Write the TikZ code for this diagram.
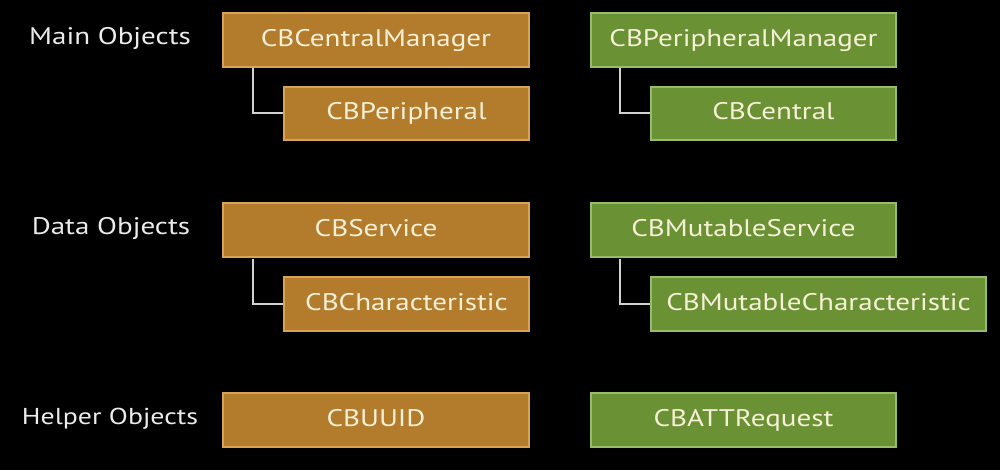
\documentclass[tikz,border=0pt]{standalone}
\usepackage{fontspec}
\setmainfont[FakeStretch=1.21]{PT Sans}
\definecolor{orfill}{RGB}{178,124,44}
\definecolor{ordraw}{RGB}{214,164,84}
\definecolor{grfill}{RGB}{106,145,52}
\definecolor{grdraw}{RGB}{152,188,104}
\definecolor{boxtext}{RGB}{246,240,214}
\definecolor{linkc}{RGB}{210,210,210}
\tikzset{
  basebox/.style={line width=1.5pt, inner sep=0pt, text=boxtext, text height=17pt, text depth=4pt, font=\fontsize{24}{28}\selectfont},
  obox/.style={basebox, draw=ordraw, fill=orfill},
  gbox/.style={basebox, draw=grdraw, fill=grfill},
  rowlabel/.style={text=white!92!black, font=\fontsize{24}{28}\selectfont, inner sep=0pt, text height=17pt, text depth=4pt},
  link/.style={draw=linkc, line width=2pt}
}
\begin{document}
\begin{tikzpicture}[x=1pt,y=-1pt]
\fill[black] (0,0) rectangle (1000,470);
\useasboundingbox (0,0) rectangle (1000,470);
% labels
\node[rowlabel] (lmain) at (110,38) {Main Objects};
\node[rowlabel] (ldata) at (111,228) {Data Objects};
\node[rowlabel, font=\fontsize{23}{28}\selectfont] (lhelp) at (110,418) {Helper Objects};
% main
\node[obox, minimum width=306, minimum height=54] (ccm) at (376,40) {CBCentralManager};
\node[obox, minimum width=245, minimum height=53] (cp) at (406.5,113.5) {CBPeripheral};
\node[gbox, minimum width=305, minimum height=54] (cpm) at (743.5,40) {CBPeripheralManager};
\node[gbox, minimum width=245, minimum height=53] (cc) at (773.5,113.5) {CBCentral};
% data
\node[obox, minimum width=306, minimum height=54] (cs) at (376,230) {CBService};
\node[obox, minimum width=245, minimum height=54] (cch) at (406.5,304) {CBCharacteristic};
\node[gbox, minimum width=305, minimum height=54] (cms) at (743.5,230) {CBMutableService};
\node[gbox, minimum width=335, minimum height=54] (cmc) at (818.5,304) {CBMutableCharacteristic};
% helper
\node[obox, minimum width=306, minimum height=54] (cu) at (376,420) {CBUUID};
\node[gbox, minimum width=305, minimum height=54] (catt) at (743.5,420) {CBATTRequest};
% connectors
\draw[link] (ccm.south west) ++(31,0.75) |- (cp.west);
\draw[link] (cpm.south west) ++(30,0.75) |- (cc.west);
\draw[link] (cs.south west) ++(31,0.75) |- (cch.west);
\draw[link] (cms.south west) ++(30,0.75) |- (cmc.west);
\end{tikzpicture}
\end{document}
